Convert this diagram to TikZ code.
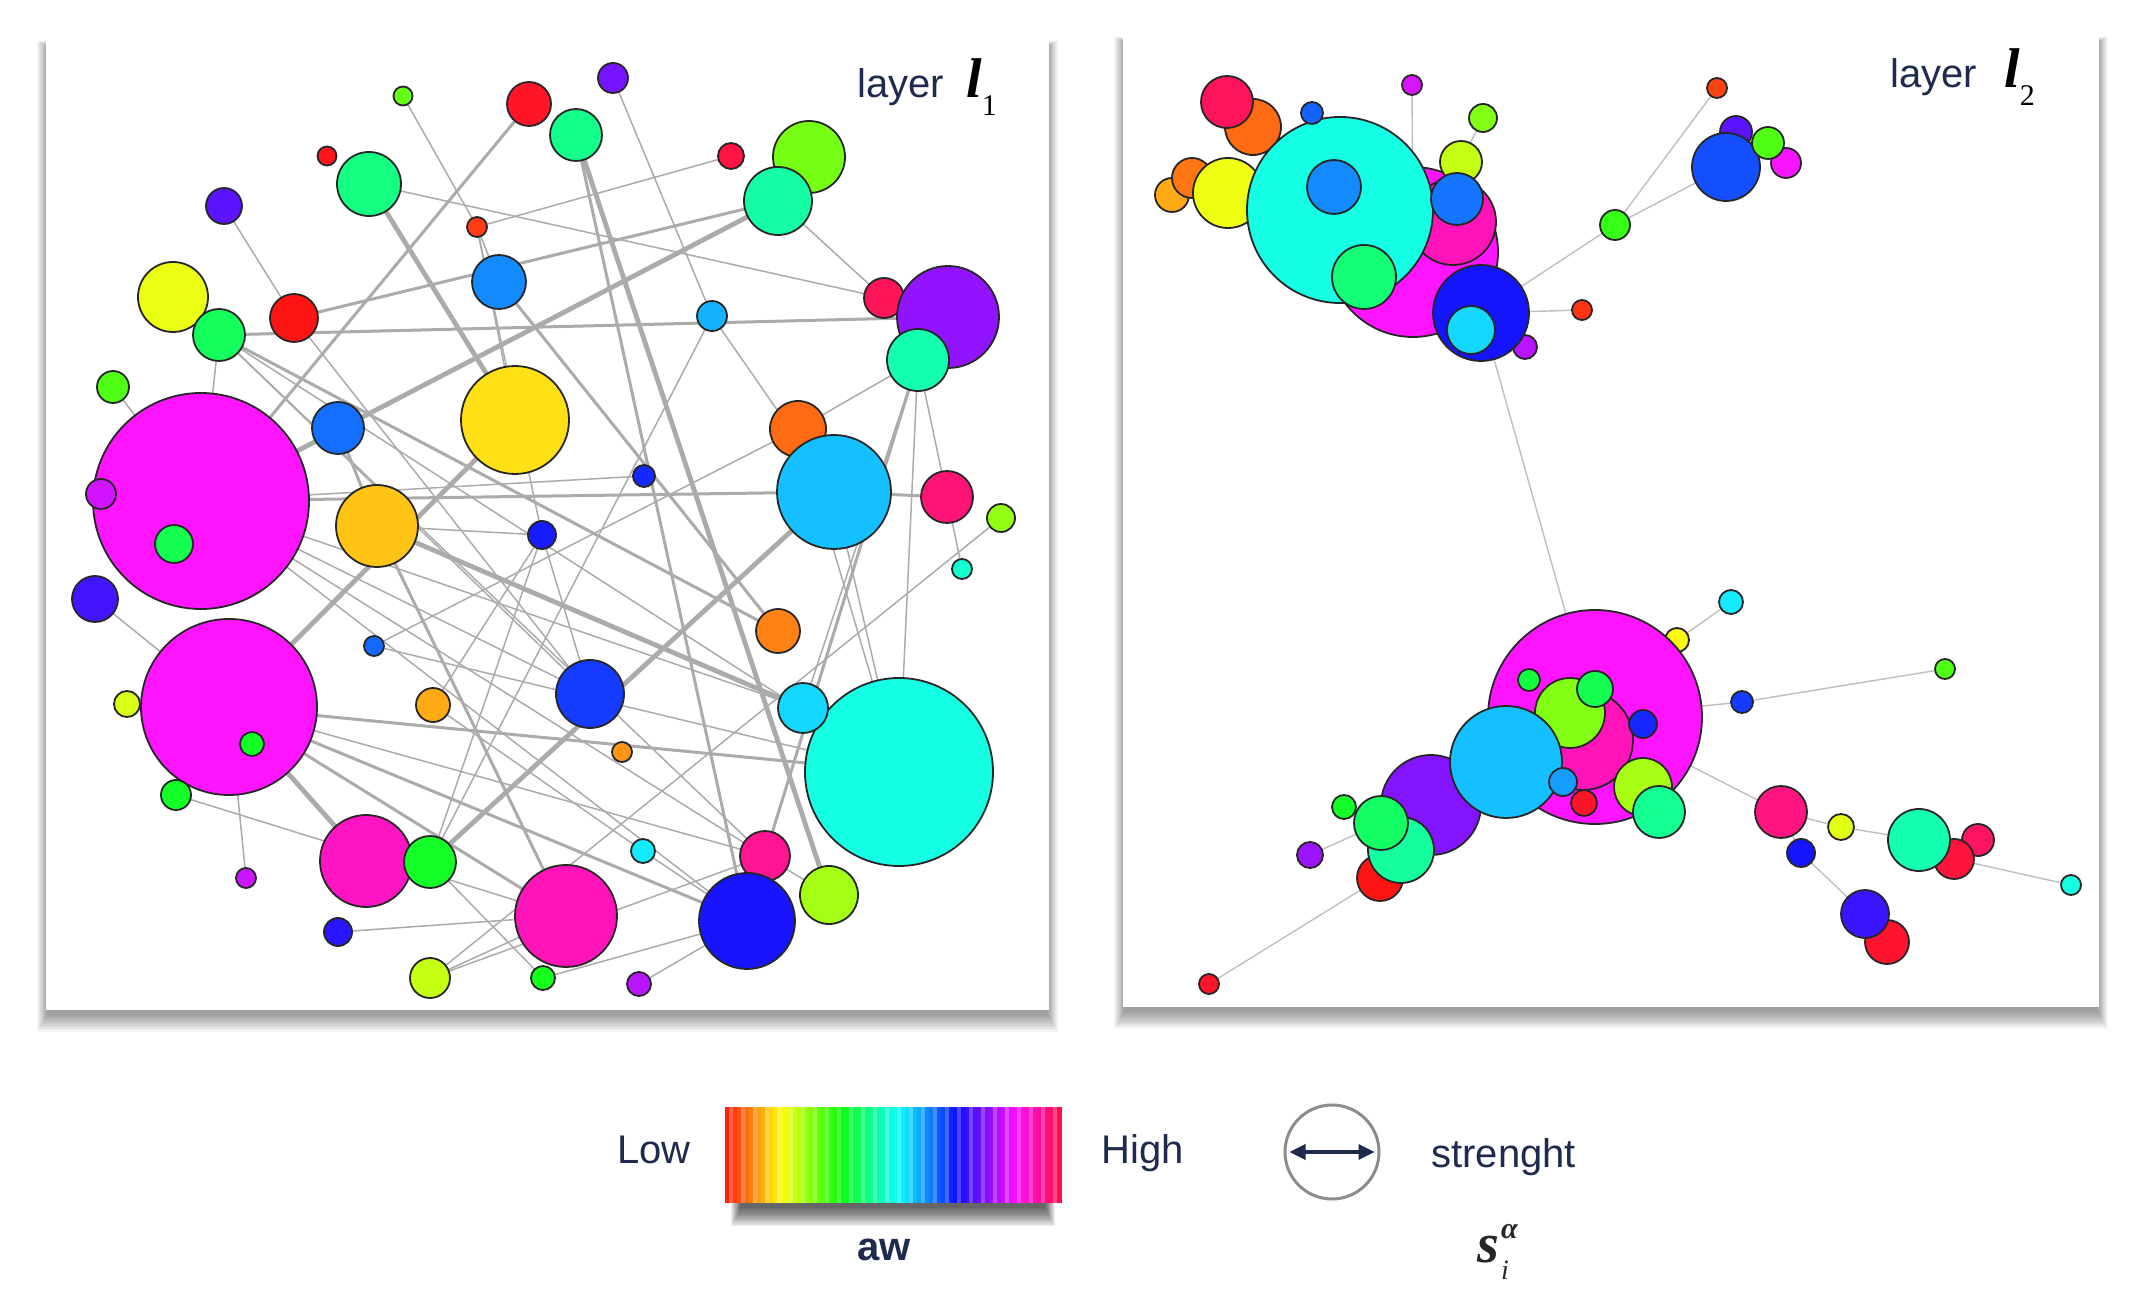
\PassOptionsToPackage{rgb}{xcolor}
\documentclass[tikz,border=0pt]{standalone}
\usepackage{fontspec}
\setmainfont{Liberation Sans}
\newfontfamily\serifit{Liberation Serif}
\usetikzlibrary{arrows.meta}
\pgfdeclarelayer{back}\pgfdeclarelayer{edges}
\pgfsetlayers{back,edges,main}
\definecolor{navy}{HTML}{1E2B4E}
\definecolor{edgegray}{HTML}{ABABAB}
\tikzset{
 bubble/.style={circle, draw=black!85, line width=0.9pt, inner sep=0pt, outer sep=0pt},
 ethin/.style={draw=edgegray, line width=0.75pt},
 emed/.style={draw=edgegray, line width=1.5pt},
 ethick/.style={draw=edgegray, line width=2.4pt},
 rthin/.style={draw=black!25, line width=0.7pt},
 lbl/.style={text=navy, inner sep=0pt, font=\fontsize{20}{24}\selectfont},
}
\newcommand\bub[5]{\definecolor{tmpc}{Hsb}{#5,0.92,1}\colorlet{col#1}[rgb]{tmpc}\node[bubble, fill=col#1, minimum size=#4pt] (#1) at (#2,#3) {};}
\begin{document}
\begin{tikzpicture}[x=0.5pt,y=-0.5pt]
\useasboundingbox (0,0) rectangle (2138,1309);
\begin{pgfonlayer}{back}
\fill[white] (0,0) rectangle (2138,1309);
\foreach \i in {1,...,12} {
  \fill[black,opacity=0.035] (46-0.9*\i+2,41-0.5*\i+6) rectangle (1049+0.9*\i-2,1010+1.5*\i+4);
  \fill[black,opacity=0.035] (1123-0.9*\i+2,37-0.5*\i+6) rectangle (2099+0.9*\i-2,1007+1.5*\i+4);
}
\fill[white] (46,41) rectangle (1049,1010);
\fill[white] (1123,37) rectangle (2099,1007);
\foreach \i in {1,...,12} \fill[black,opacity=0.07] (742-\i*0.9,1160) rectangle (1044+\i*0.9,1206+\i*1.7);
\end{pgfonlayer}

% ---------------- left panel nodes
\bub{a1}{403}{96}{9.5}{100}
\bub{a2}{529}{104}{22}{355}
\bub{a3}{576}{135}{26}{150}
\bub{a4}{613}{78}{15}{265}
\bub{a5}{327}{156}{9.5}{358}
\bub{a6}{369}{184}{32}{148}
\bub{a7}{224}{206}{18}{258}
\bub{a8}{731}{156}{13}{348}
\bub{a9}{809}{157}{36}{95}
\bub{a10}{778}{201}{34}{157}
\bub{a11}{477}{227}{10}{10}
\bub{a12}{499}{282}{27}{210}
\bub{a13}{173}{297}{35}{65}
\bub{a14}{294}{318}{24}{0}
\bub{a15}{219}{335}{26}{138}
\bub{a16}{712}{316}{15}{200}
\bub{a17}{884}{298}{20}{343}
\bub{a18}{948}{317}{51}{272}
\bub{a19}{918}{360}{31}{160}
\bub{a20}{113}{387}{16}{105}
\bub{a21}{201}{501}{108}{300}
\bub{a22}{101}{494}{15}{288}
\bub{a23}{338}{428}{26}{217}
\bub{a24}{515}{420}{54}{52}
\bub{a25}{798}{429}{28}{22}
\bub{a26}{834}{492}{57}{196}
\bub{a27}{947}{497}{26}{335}
\bub{a28}{1001}{518}{14}{88}
\bub{a29}{644}{476}{11}{235}
\bub{a30}{377}{526}{41}{45}
\bub{a31}{542}{535}{14}{238}
\bub{a32}{174}{544}{19}{135}
\bub{a33}{95}{599}{23}{252}
\bub{a34}{962}{569}{10}{168}
\bub{a35}{778}{631}{22}{28}
\bub{a36}{229}{707}{88}{300}
\bub{a37}{127}{704}{13}{70}
\bub{a38}{252}{744}{12}{125}
\bub{a39}{374}{646}{10}{218}
\bub{a40}{433}{705}{17}{38}
\bub{a41}{590}{694}{34}{230}
\bub{a43}{899}{772}{94}{173}
\bub{a42}{803}{708}{25}{190}
\bub{a44}{622}{752}{10}{33}
\bub{a45}{176}{795}{15}{125}
\bub{a46}{246}{878}{10}{287}
\bub{a47}{366}{861}{46}{315}
\bub{a48}{430}{862}{26}{125}
\bub{a49}{643}{851}{12}{185}
\bub{a50}{765}{856}{25}{328}
\bub{a51}{566}{916}{51}{318}
\bub{a52}{747}{921}{48}{241}
\bub{a53}{829}{895}{29}{83}
\bub{a54}{338}{932}{14}{245}
\bub{a55}{430}{978}{20}{75}
\bub{a56}{543}{978}{12}{122}
\bub{a57}{639}{984}{12}{282}

% ---------------- right panel nodes (top)
\bub{b2}{1253}{127}{28}{22}
\bub{b1}{1227}{102}{26}{342}
\bub{b5}{1172}{195}{17}{38}
\bub{b4}{1192}{178}{20}{25}
\bub{b6}{1228}{193}{35}{64}
\bub{b9}{1413}{252}{85}{300}
\bub{b10}{1453}{222}{43}{318}
\bub{b7}{1340}{210}{93}{173}
\bub{b3}{1312}{113}{11}{220}
\bub{b8}{1334}{187}{27}{210}
\bub{b11}{1461}{162}{21}{75}
\bub{b14}{1457}{199}{26}{215}
\bub{b15}{1364}{277}{32}{145}
\bub{b13}{1412}{85}{10}{290}
\bub{b12}{1483}{118}{14}{92}
\bub{b18}{1525}{347}{12}{282}
\bub{b16}{1481}{313}{48}{240}
\bub{b17}{1471}{330}{24}{190}
\bub{b19}{1582}{310}{10}{8}
\bub{b20}{1615}{225}{15}{112}
\bub{b21}{1717}{88}{10}{12}
\bub{b22}{1736}{132}{16}{258}
\bub{b25}{1726}{167}{34}{225}
\bub{b24}{1786}{163}{15}{298}
\bub{b23}{1768}{143}{16}{105}

% ---------------- right panel nodes (bottom)
\bub{c2}{1677}{640}{12}{58}
\bub{c1}{1731}{602}{12}{185}
\bub{c3}{1595}{717}{107}{300}
\bub{c9}{1583}{740}{50}{318}
\bub{c7}{1570}{713}{35}{92}
\bub{c6}{1529}{680}{11}{130}
\bub{c8}{1595}{689}{18}{135}
\bub{c10}{1643}{724}{14}{235}
\bub{c13}{1584}{803}{13}{355}
\bub{c14}{1643}{787}{29}{82}
\bub{c15}{1659}{812}{26}{152}
\bub{c16}{1431}{805}{50}{268}
\bub{c11}{1506}{762}{56}{196}
\bub{c12}{1563}{782}{14}{205}
\bub{c17}{1344}{807}{12}{125}
\bub{c20}{1380}{878}{23}{0}
\bub{c19}{1401}{850}{33}{155}
\bub{c18}{1381}{823}{27}{140}
\bub{c21}{1310}{855}{13}{275}
\bub{c22}{1209}{984}{10}{355}
\bub{c5}{1742}{702}{11}{230}
\bub{c4}{1945}{669}{10}{105}
\bub{c23}{1781}{812}{26}{332}
\bub{c24}{1841}{827}{13}{68}
\bub{c25}{1801}{853}{14}{240}
\bub{c27}{1978}{840}{16}{340}
\bub{c28}{1954}{859}{20}{350}
\bub{c26}{1919}{840}{31}{160}
\bub{c29}{2071}{885}{10}{172}
\bub{c31}{1887}{942}{22}{353}
\bub{c30}{1865}{914}{24}{250}

% ---------------- edges
\begin{pgfonlayer}{edges}
\foreach \p/\q in {a6/a24,a21/a10,a3/a53,a30/a42,a36/a47,a24/a36,a48/a26}
  \draw[ethick] (\p) -- (\q);
\foreach \p/\q in {a2/a21,a14/a10,a15/a18,a36/a43,a36/a52,a36/a51,a23/a30,a3/a52,a26/a21,a12/a35,a15/a35,a30/a51,a50/a19,a26/a27}
  \draw[emed] (\p) -- (\q);
\foreach \p/\q in {a1/a11,a11/a12,a7/a14,a6/a17,a4/a16,a16/a26,a16/a48,a8/a11,a11/a24,a11/a31,a14/a41,a20/a21,a15/a21,a10/a17,a19/a25,a19/a43,a19/a27,a19/a42,a27/a34,a28/a55,a25/a39,a25/a43,a26/a43,a29/a21,a33/a36,a46/a36,a45/a51,a54/a51,a55/a51,a55/a50,a57/a52,a56/a52,a48/a56,a40/a49,a39/a43,a31/a41,a30/a31,a31/a48,a21/a41,a21/a50,a15/a43,a15/a41,a15/a50,a49/a52,a53/a50,a40/a31,a21/a52,a21/a42,a36/a50}
  \draw[ethin] (\p) -- (\q);
\foreach \p/\q in {b13/b9,b12/b11,b16/b20,b16/b19,b16/c3,b20/b21,b20/b25,c1/c2,c3/c5,c5/c4,c3/c23,c23/c24,c24/c26,c28/c29,c23/c25,c25/c30,c21/c18,c22/c20}
  \draw[rthin] (\p) -- (\q);
\end{pgfonlayer}

% ---------------- panel labels
\node[lbl, anchor=base west] (lay1) at (857,98) {layer};
\node[anchor=base west, inner sep=0pt, font=\fontsize{28}{30}\selectfont\serifit] (l1) at (966,98) {{\bfseries\itshape l}\raisebox{-9pt}{\fontsize{15}{18}\selectfont 1}};
\node[lbl, anchor=base west] (lay2) at (1890,88) {layer};
\node[anchor=base west, inner sep=0pt, font=\fontsize{28}{30}\selectfont\serifit] (l2) at (2004,88) {{\bfseries\itshape l}\raisebox{-9pt}{\fontsize{15}{18}\selectfont 2}};

% ---------------- legend
\foreach \i in {0,...,83} {
  \pgfmathsetmacro\hh{4+\i*4.1}
  \pgfmathsetmacro\ss{mod(\i,3)==1 ? 0.72 : 0.95}
  \definecolor{gbh}{Hsb}{\hh,\ss,1}
  \colorlet{gb}[rgb]{gbh}
  \fill[gb] (725+4*\i,1107) rectangle (729.6+4*\i,1203);
}
\node[inner sep=0pt, minimum width=168pt, minimum height=48pt] (bar) at (893,1155) {};
\node[lbl, anchor=base west] (low) at (617,1163) {Low};
\node[lbl, anchor=base west] (high) at (1101,1163) {High};
\node[lbl, anchor=base, font=\fontsize{20}{24}\selectfont\bfseries] (aw) at (884,1260) {aw};
\node[circle, draw=black!45, line width=1.5pt, minimum size=47pt, inner sep=0pt] (sc) at (1332,1152) {};
\draw[navy, line width=1.7pt, {Triangle[length=8pt,width=7.5pt]}-{Triangle[length=8pt,width=7.5pt]}] ([xshift=3pt]sc.west) -- ([xshift=-3pt]sc.east);
\node[lbl, anchor=base west] (str) at (1431,1167) {strenght};
\node[anchor=base west, inner sep=0pt, text=black!85, font=\fontsize{28}{30}\selectfont\serifit] (sv) at (1477,1262) {{\bfseries\itshape s}\kern1pt\rlap{\raisebox{12pt}{\fontsize{15}{17}\selectfont\bfseries\itshape α}}\raisebox{-8.5pt}{\fontsize{14}{16}\selectfont\itshape i}};
\end{tikzpicture}
\end{document}
